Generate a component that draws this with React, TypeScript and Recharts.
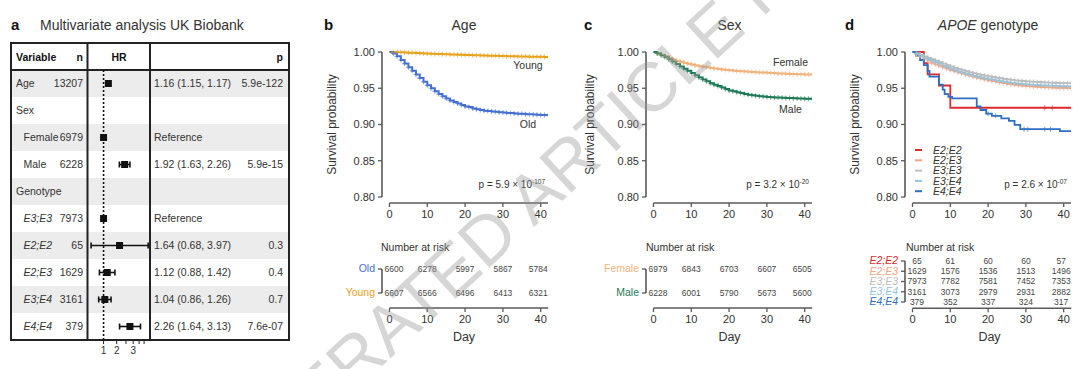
import React from 'react';
import {
  LineChart, Line, XAxis, YAxis, ReferenceLine,
  ScatterChart, Scatter, ErrorBar,
} from 'recharts';

const FONT = '"Liberation Sans", Arial, Helvetica, sans-serif';
const INK = '#333333';
const AXIS = '#5a5a5a';

// ---------- a: multivariate Cox model ----------
const forestVars = ['Age', 'Sex', 'Female', 'Male', 'Genotype', 'E3;E3', 'E2;E2', 'E2;E3', 'E3;E4', 'E4;E4'];
const forestIndent = [false, false, true, true, false, true, true, true, true, true];
const forestItalic = [false, false, false, false, false, true, true, true, true, true];
const forestN = [13207, null, 6979, 6228, null, 7973, 65, 1629, 3161, 379];
const forestHR = [1.16, null, 1, 1.92, null, 1, 1.64, 1.12, 1.04, 2.26];
const forestLo = [1.15, null, null, 1.63, null, null, 0.68, 0.88, 0.86, 1.64];
const forestHi = [1.17, null, null, 2.26, null, null, 3.97, 1.42, 1.26, 3.13];
const forestP = ['5.9e-122', '', '', '5.9e-15', '', '', '0.3', '0.4', '0.7', '7.6e-07'];
const forestTicks = [1, 1.5, 2, 2.5, 3, 3.5];
const forestTickLabels = ['1', '2', '', '3', '', ''];

// ---------- b-d: Kaplan-Meier ----------
const DAYS = Array.from({ length: 43 }, (_, i) => i);
const dayTicks = [0, 10, 20, 30, 40];
const survTicks = [0.8, 0.85, 0.9, 0.95, 1.0];
const riskDays = [0, 10, 20, 30, 40];

const youngSurv = [1.0, 0.9999, 0.9997, 0.9996, 0.9994, 0.9991, 0.9989, 0.9986, 0.9984, 0.9981, 0.9978,
  0.9976, 0.9974, 0.9972, 0.997, 0.9968, 0.9966, 0.9964, 0.9962, 0.9961, 0.9959,
  0.9957, 0.9956, 0.9954, 0.9952, 0.9951, 0.995, 0.9948, 0.9947, 0.9945, 0.9944,
  0.9943, 0.9942, 0.9941, 0.9939, 0.9938, 0.9937, 0.9936, 0.9935, 0.9934, 0.9933, 0.9932, 0.9932];
const oldSurv = [1.0, 0.998, 0.994, 0.989, 0.984, 0.979, 0.974, 0.969, 0.964, 0.959, 0.954,
  0.95, 0.946, 0.942, 0.939, 0.936, 0.933, 0.931, 0.929, 0.927, 0.925,
  0.924, 0.922, 0.921, 0.92, 0.919, 0.9185, 0.918, 0.9175, 0.917, 0.9165,
  0.916, 0.9157, 0.9153, 0.915, 0.9147, 0.9143, 0.914, 0.9137, 0.9134, 0.913, 0.913, 0.9128];
const femaleSurv = [1.0, 0.998, 0.996, 0.994, 0.9915, 0.9895, 0.988, 0.9865, 0.985, 0.9838, 0.9826,
  0.9815, 0.9805, 0.9796, 0.9788, 0.978, 0.9773, 0.9766, 0.976, 0.9753, 0.9747,
  0.9742, 0.9738, 0.9734, 0.9731, 0.9728, 0.9725, 0.9722, 0.9719, 0.9717, 0.9714,
  0.9711, 0.9708, 0.9705, 0.9703, 0.97, 0.9698, 0.9696, 0.9694, 0.9692, 0.969, 0.9689, 0.9688];
const maleSurv = [1.0, 0.998, 0.9955, 0.993, 0.99, 0.987, 0.9835, 0.98, 0.977, 0.974, 0.971,
  0.968, 0.965, 0.962, 0.9595, 0.957, 0.955, 0.953, 0.951, 0.949, 0.947,
  0.9458, 0.9446, 0.9434, 0.9422, 0.941, 0.9403, 0.9396, 0.939, 0.9385, 0.938,
  0.9377, 0.9374, 0.9371, 0.9368, 0.9366, 0.9364, 0.9362, 0.936, 0.9358, 0.9356, 0.9355, 0.9355];
const e23Surv = [1.0, 0.997, 0.994, 0.991, 0.988, 0.985, 0.983, 0.981, 0.979, 0.977, 0.975,
  0.9735, 0.972, 0.9705, 0.969, 0.9675, 0.966, 0.9647, 0.9634, 0.9622, 0.961,
  0.96, 0.959, 0.958, 0.957, 0.9562, 0.9555, 0.9548, 0.9541, 0.9535, 0.953,
  0.9526, 0.9522, 0.9519, 0.9516, 0.9513, 0.9511, 0.9509, 0.9507, 0.9505, 0.9504, 0.9503, 0.9503];
const e33Surv = [1.0, 0.998, 0.996, 0.994, 0.992, 0.99, 0.988, 0.986, 0.984, 0.982, 0.98,
  0.978, 0.9765, 0.975, 0.9735, 0.972, 0.9708, 0.9696, 0.9685, 0.9675, 0.9665,
  0.9655, 0.9646, 0.9638, 0.963, 0.9623, 0.9616, 0.961, 0.9604, 0.96, 0.9596,
  0.9592, 0.9589, 0.9586, 0.9583, 0.958, 0.9578, 0.9576, 0.9574, 0.9572, 0.957, 0.957, 0.957];
const e34Surv = [1.0, 0.998, 0.995, 0.993, 0.99, 0.988, 0.986, 0.984, 0.981, 0.979, 0.977,
  0.975, 0.973, 0.9715, 0.97, 0.9685, 0.967, 0.966, 0.9648, 0.9637, 0.9627,
  0.9617, 0.9607, 0.9598, 0.959, 0.9582, 0.9575, 0.9568, 0.9562, 0.9557, 0.9553,
  0.955, 0.9547, 0.9544, 0.9541, 0.9538, 0.9536, 0.9534, 0.9532, 0.953, 0.9528, 0.9527, 0.9527];
const e22Times = [0, 3, 4, 7, 10];
const e22Surv = [1.0, 0.9846, 0.9692, 0.9538, 0.9231];
const e22Censor = [35, 37];
const e44Times = [0, 1, 2, 3, 4, 4.5, 7, 8, 8.5, 9.5, 10.5, 17, 18, 19.5, 21, 23.5, 25.5, 27, 28.5, 39];
const e44Surv = [1.0, 0.995, 0.989, 0.982, 0.974, 0.966, 0.955, 0.948, 0.942, 0.938, 0.936, 0.925, 0.92,
  0.915, 0.912, 0.9085, 0.905, 0.8995, 0.8935, 0.891];
const e44Censor = [20, 22, 29.5, 30.5, 35, 36.5];

const oldRisk = [6600, 6278, 5997, 5867, 5784];
const youngRisk = [6607, 6566, 6496, 6413, 6321];
const femaleRisk = [6979, 6843, 6703, 6607, 6505];
const maleRisk = [6228, 6001, 5790, 5673, 5600];
const e22Risk = [65, 61, 60, 60, 57];
const e23Risk = [1629, 1576, 1536, 1513, 1496];
const e33Risk = [7973, 7782, 7581, 7452, 7353];
const e34Risk = [3161, 3073, 2979, 2931, 2882];
const e44Risk = [379, 352, 337, 324, 317];

const C = {
  young: '#E9A21D', old: '#4670D2', female: '#F2B27C', male: '#1F7A58',
  e22: '#DC2A2E', e23: '#F4A582', e33: '#BDBDBD', e34: '#92C5DE', e44: '#2F6FC3',
};

type Pt = { t: number; s: number; c: boolean };
const dense = (surv: number[]): Pt[] => DAYS.map((d, i) => ({ t: d, s: surv[i], c: i > 0 }));
const steps = (times: number[], surv: number[], censor: number[], end: number): Pt[] => {
  const pts: Pt[] = times.map((t, i) => ({ t, s: surv[i], c: false }));
  censor.forEach((ct) => {
    const k = times.filter((t) => t <= ct).length - 1;
    pts.push({ t: ct, s: surv[k], c: true });
  });
  pts.push({ t: end, s: surv[surv.length - 1], c: false });
  return pts.sort((a, b) => a.t - b.t);
};

// geometry shared by the three survival panels
const PX_DAY = 3.78;
const AXIS_GAP = 7.5;
const X_MIN = -AXIS_GAP / PX_DAY;
const PLOT_W = AXIS_GAP + 42 * PX_DAY;
const PLOT_TOP = 46;
const PLOT_H = 157;
const Y_MAX = 1 + 6 / 725;
const Y_MIN = 0.8 - 6 / 725;
const Y_W = 45;
const X_H = 28;
const RISK_AXIS_Y = 308;
const RIGHT_ROOM = 8;

const tickStyle = { fontSize: 11, fill: INK, fontFamily: FONT };

type Curve = { key: string; color: string; data: Pt[]; width?: number };

const censorDot = (color: string) => (p: any) => {
  const { cx, cy, payload, index } = p;
  if (!payload || !payload.c || cx == null) return <g key={`n${index}`} />;
  return (
    <path key={`c${index}`} d={`M${cx - 2.5},${cy}h5M${cx},${cy - 2.5}v5`}
      stroke={color} strokeOpacity={0.6} strokeWidth={1.1} fill="none" />
  );
};

function KMPlot({ day0, curves }: { day0: number; curves: Curve[] }) {
  return (
    <div style={{ position: 'absolute', left: day0 - AXIS_GAP - Y_W, top: PLOT_TOP }}>
      <LineChart width={Y_W + PLOT_W} height={PLOT_H + X_H} margin={{ top: 0, right: 0, bottom: 0, left: 0 }}>
        <XAxis type="number" dataKey="t" domain={[X_MIN, 42]} ticks={dayTicks} allowDataOverflow
          axisLine={false} tickLine={{ stroke: AXIS, strokeWidth: 1.3 }} tickSize={4} tickMargin={3}
          tick={tickStyle} height={X_H} interval={0} />
        <YAxis type="number" domain={[Y_MIN, Y_MAX]} ticks={survTicks} allowDataOverflow
          axisLine={false} tickLine={{ stroke: AXIS, strokeWidth: 1.3 }} tickSize={4} tickMargin={3}
          tick={tickStyle} width={Y_W} interval={0} tickFormatter={(v: number) => v.toFixed(2)} />
        <ReferenceLine segment={[{ x: X_MIN, y: 0.8 }, { x: X_MIN, y: 1 }]} stroke={AXIS} strokeWidth={1.6} ifOverflow="visible" />
        <ReferenceLine segment={[{ x: 0, y: Y_MIN }, { x: 42, y: Y_MIN }]} stroke={AXIS} strokeWidth={1.6} ifOverflow="visible" />
        {curves.map((c) => (
          <Line key={c.key} data={c.data} dataKey="s" type="stepAfter" stroke={c.color}
            strokeWidth={c.width ?? 2} dot={censorDot(c.color)} activeDot={false}
            isAnimationActive={false} />
        ))}
      </LineChart>
    </div>
  );
}

function RiskTable({ day0, rowTop, rowGap, names, colors, italic, counts, labelSize }: {
  day0: number; rowTop: number; rowGap: number; names: string[]; colors: string[];
  italic: boolean; counts: number[][]; labelSize: number;
}) {
  const pad = 10;
  const yLo = -pad / rowGap;
  const yHi = (RISK_AXIS_Y - rowTop) / rowGap;
  const rows = counts.flatMap((arr, r) => arr.map((n, j) => ({ t: riskDays[j], r, n })));
  const h = RISK_AXIS_Y - (rowTop - pad);
  const first = riskDays[0];
  const last = riskDays[riskDays.length - 1];
  return (
    <div style={{ position: 'absolute', left: day0 - AXIS_GAP - Y_W, top: rowTop - pad }}>
      <ScatterChart width={Y_W + PLOT_W + RIGHT_ROOM} height={h + X_H}
        margin={{ top: 0, right: RIGHT_ROOM, bottom: 0, left: 0 }}>
        <XAxis type="number" dataKey="t" domain={[X_MIN, 42]} ticks={dayTicks}
          axisLine={false} tickLine={{ stroke: AXIS, strokeWidth: 1.3 }} tickSize={4} tickMargin={3}
          tick={tickStyle} height={X_H} interval={0} />
        <YAxis type="number" dataKey="r" domain={[yLo, yHi]} reversed interval={0}
          ticks={names.map((_, i) => i)} width={Y_W} axisLine={false}
          tickLine={{ stroke: AXIS, strokeWidth: 1.3 }} tickSize={4} tickMargin={3}
          tick={(p: any) => (
            <text x={p.x} y={p.y} textAnchor="end" dominantBaseline="central" fontFamily={FONT}
              fontSize={labelSize} fontStyle={italic ? 'italic' : 'normal'} fill={colors[p.payload.value]}>
              {names[p.payload.value]}
            </text>
          )} />
        <ReferenceLine segment={[{ x: X_MIN, y: 0 }, { x: X_MIN, y: names.length - 1 }]} stroke={AXIS} strokeWidth={1.6} ifOverflow="visible" />
        <ReferenceLine segment={[{ x: 0, y: yHi }, { x: 42, y: yHi }]} stroke={AXIS} strokeWidth={1.6} ifOverflow="visible" />
        <Scatter data={rows} isAnimationActive={false}
          shape={(p: any) => {
            const nudge = p.payload.t === first ? 4.5 : p.payload.t === last ? -2.5 : 0;
            return (
              <text x={p.cx + nudge} y={p.cy} textAnchor="middle" dominantBaseline="central"
                fontFamily={FONT} fontSize={8.5} fill="#444">{p.payload.n}</text>
            );
          }} />
      </ScatterChart>
    </div>
  );
}

// forest geometry
const TBL_L = 11;
const TBL_R = 289;
const TBL_T = 43;
const HEAD_B = 70;
const ROW_H = 27;
const COL1 = 87.5;
const COL2 = 150;
const TBL_B = HEAD_B + ROW_H * forestVars.length;

function Forest() {
  const ciRows = forestVars.map((v, i) => ({ v, row: i, hr: forestHR[i], lo: forestLo[i], hi: forestHi[i] }))
    .filter((d) => d.hr != null && d.lo != null)
    .map((d) => ({ ...d, err: [(d.hr as number) - (d.lo as number), (d.hi as number) - (d.hr as number)] }));
  const refRows = forestVars.map((v, i) => ({ v, row: i, hr: forestHR[i], lo: forestLo[i] }))
    .filter((d) => d.hr != null && d.lo == null);
  const box = (p: any) => <rect x={p.cx - 3.5} y={p.cy - 3.5} width={7} height={7} fill="#111" />;
  return (
    <div style={{ position: 'absolute', left: COL1, top: HEAD_B }}>
      <ScatterChart width={COL2 - COL1} height={TBL_B - HEAD_B + 22} margin={{ top: 0, right: 0, bottom: 0, left: 0 }}>
        <XAxis type="number" dataKey="hr" scale="log" domain={[0.618, 4.27]} allowDataOverflow
          ticks={forestTicks} tickFormatter={(v: number) => forestTickLabels[forestTicks.indexOf(v)] ?? ''}
          axisLine={false} tickLine={{ stroke: '#222', strokeWidth: 1 }} tickSize={4} tickMargin={3}
          tick={{ fontSize: 10, fill: INK, fontFamily: FONT }} height={22} interval={0} />
        <YAxis type="number" dataKey="row" domain={[-0.5, forestVars.length - 0.5]} reversed hide allowDataOverflow />
        <ReferenceLine x={1} stroke="#111" strokeWidth={1.6} strokeDasharray="2 2" />
        <Scatter data={ciRows} shape={box} isAnimationActive={false}>
          <ErrorBar dataKey="err" direction="x" width={3} stroke="#111" strokeWidth={1.6} isAnimationActive={false} />
        </Scatter>
        <Scatter data={refRows} shape={box} isAnimationActive={false} />
      </ScatterChart>
    </div>
  );
}

const fmt = (v: number) => v.toFixed(2);

function Background() {
  const rowY = (i: number) => HEAD_B + ROW_H * i + ROW_H / 2;
  const titleY = 30;
  const yLabel = (x: number) => (
    <text x={x} y={124.5} transform={`rotate(-90 ${x} 124.5)`} textAnchor="middle" fontSize={12} fill={INK}>
      Survival probability
    </text>
  );
  const pval = (x: number, mant: string, exp: string) => (
    <text x={x} y={187.5} textAnchor="end" fontSize={10} fill={INK}>
      {`p = ${mant} × 10`}<tspan dy={-4} fontSize={6.5}>{exp}</tspan>
    </text>
  );
  const legendNames = ['E2;E2', 'E2;E3', 'E3;E3', 'E3;E4', 'E4;E4'];
  const legendColors = [C.e22, C.e23, C.e33, C.e34, C.e44];
  return (
    <svg width={1080} height={369} style={{ position: 'absolute', left: 0, top: 0 }} fontFamily={FONT}>
      {/* panel a */}
      <text x={11} y={titleY} fontSize={15} fontWeight="bold" fill="#111">a</text>
      <text x={40} y={titleY} fontSize={14} fill={INK}>Multivariate analysis UK Biobank</text>
      {forestVars.map((v, i) => (i % 2 === 0
        ? <rect key={`sh${v}`} x={TBL_L} y={HEAD_B + ROW_H * i} width={TBL_R - TBL_L} height={ROW_H} fill="#ececec" />
        : null))}
      <text x={16} y={60.6} fontSize={10.5} fontWeight="bold" fill="#111">Variable</text>
      <text x={83} y={60.6} fontSize={10.5} fontWeight="bold" fill="#111" textAnchor="end">n</text>
      <text x={119} y={60.6} fontSize={10.5} fontWeight="bold" fill="#111" textAnchor="middle">HR</text>
      <text x={283} y={60.6} fontSize={10.5} fontWeight="bold" fill="#111" textAnchor="end">p</text>
      {forestVars.map((v, i) => (
        <g key={`r${v}`} fontSize={10.5} fill={INK}>
          <text x={forestIndent[i] ? 23.5 : 16} y={rowY(i) + 3.6} fontStyle={forestItalic[i] ? 'italic' : 'normal'}>{v}</text>
          {forestN[i] != null && <text x={83} y={rowY(i) + 3.6} textAnchor="end">{forestN[i]}</text>}
          {forestHR[i] != null && (
            <text x={154} y={rowY(i) + 3.6}>
              {forestLo[i] == null ? 'Reference'
                : `${fmt(forestHR[i] as number)} (${fmt(forestLo[i] as number)}, ${fmt(forestHi[i] as number)})`}
            </text>
          )}
          {forestP[i] && <text x={283} y={rowY(i) + 3.6} textAnchor="end">{forestP[i]}</text>}
        </g>
      ))}
      <rect x={TBL_L} y={TBL_T} width={TBL_R - TBL_L} height={TBL_B - TBL_T} fill="none" stroke="#222" strokeWidth={2} />
      <line x1={TBL_L} x2={TBL_R} y1={HEAD_B} y2={HEAD_B} stroke="#222" strokeWidth={2} />
      <line x1={COL1} x2={COL1} y1={TBL_T} y2={TBL_B} stroke="#222" strokeWidth={2} />
      <line x1={COL2} x2={COL2} y1={TBL_T} y2={TBL_B} stroke="#222" strokeWidth={2} />

      {/* panel b */}
      <text x={324} y={titleY} fontSize={15} fontWeight="bold" fill="#111">b</text>
      <text x={464} y={titleY} fontSize={14} fill={INK} textAnchor="middle">Age</text>
      {yLabel(336)}
      <text x={528} y={68.5} fontSize={10.5} fill={INK} textAnchor="middle">Young</text>
      <text x={528} y={127.5} fontSize={10.5} fill={INK} textAnchor="middle">Old</text>
      {pval(545, '5.9', '-107')}
      <text x={381} y={250.5} fontSize={10.5} fill={INK}>Number at risk</text>
      <text x={464} y={341} fontSize={12.5} fill={INK} textAnchor="middle">Day</text>

      {/* panel c */}
      <text x={584} y={titleY} fontSize={15} fontWeight="bold" fill="#111">c</text>
      <text x={729.5} y={titleY} fontSize={14} fill={INK} textAnchor="middle">Sex</text>
      {yLabel(594)}
      <text x={790.5} y={66} fontSize={10.5} fill={INK} textAnchor="middle">Female</text>
      <text x={790.5} y={112.5} fontSize={10.5} fill={INK} textAnchor="middle">Male</text>
      {pval(809, '3.2', '-20')}
      <text x={646} y={250.5} fontSize={10.5} fill={INK}>Number at risk</text>
      <text x={729.5} y={341} fontSize={12.5} fill={INK} textAnchor="middle">Day</text>

      {/* panel d */}
      <text x={845} y={titleY} fontSize={15} fontWeight="bold" fill="#111">d</text>
      <text x={988} y={titleY} fontSize={14} fill={INK} textAnchor="middle">
        <tspan fontStyle="italic">APOE</tspan> genotype
      </text>
      {yLabel(859)}
      {legendNames.map((n, i) => (
        <g key={`lg${n}`}>
          <line x1={915} x2={922} y1={150 + i * 10.3} y2={150 + i * 10.3} stroke={legendColors[i]} strokeWidth={2} />
          <text x={933} y={150 + i * 10.3 + 3.6} fontSize={10.5} fontStyle="italic" fill={INK}>{n}</text>
        </g>
      ))}
      {pval(1067, '2.6', '-07')}
      <text x={906} y={250.5} fontSize={10.5} fill={INK}>Number at risk</text>
      <text x={989.5} y={341} fontSize={12.5} fill={INK} textAnchor="middle">Day</text>
    </svg>
  );
}

function Watermark() {
  return (
    <svg width={1080} height={369} style={{ position: 'absolute', left: 0, top: 0, pointerEvents: 'none' }}>
      <text x={573} y={191} transform="rotate(-42.5 573 191)" textAnchor="middle" fontFamily={FONT}
        fontSize={69} fill="#999" fillOpacity={0.4}>ACCELERATED ARTICLE PREVIEW</text>
    </svg>
  );
}

export default function App() {
  const bCurves: Curve[] = [
    { key: 'young', color: C.young, data: dense(youngSurv) },
    { key: 'old', color: C.old, data: dense(oldSurv) },
  ];
  const cCurves: Curve[] = [
    { key: 'female', color: C.female, data: dense(femaleSurv) },
    { key: 'male', color: C.male, data: dense(maleSurv) },
  ];
  const dCurves: Curve[] = [
    { key: 'e22', color: C.e22, data: steps(e22Times, e22Surv, e22Censor, 42), width: 1.8 },
    { key: 'e23', color: C.e23, data: dense(e23Surv), width: 1.8 },
    { key: 'e33', color: C.e33, data: dense(e33Surv), width: 1.8 },
    { key: 'e34', color: C.e34, data: dense(e34Surv), width: 1.8 },
    { key: 'e44', color: C.e44, data: steps(e44Times, e44Surv, e44Censor, 42), width: 1.8 },
  ];
  return (
    <div style={{ position: 'absolute', left: 0, top: 0, width: 1080, height: 369, background: '#fff', overflow: 'hidden', fontFamily: FONT }}>
      <Background />
      <Forest />
      <KMPlot day0={389} curves={bCurves} />
      <RiskTable day0={389} rowTop={269} rowGap={24} names={['Old', 'Young']} colors={[C.old, C.young]}
        italic={false} counts={[oldRisk, youngRisk]} labelSize={10.5} />
      <KMPlot day0={653.5} curves={cCurves} />
      <RiskTable day0={653.5} rowTop={269} rowGap={24} names={['Female', 'Male']} colors={[C.female, C.male]}
        italic={false} counts={[femaleRisk, maleRisk]} labelSize={10.5} />
      <KMPlot day0={912.5} curves={dCurves} />
      <RiskTable day0={912.5} rowTop={260.7} rowGap={10.25}
        names={['E2;E2', 'E2;E3', 'E3;E3', 'E3;E4', 'E4;E4']}
        colors={[C.e22, C.e23, C.e33, C.e34, C.e44]} italic
        counts={[e22Risk, e23Risk, e33Risk, e34Risk, e44Risk]} labelSize={10.5} />
      <Watermark />
    </div>
  );
}
